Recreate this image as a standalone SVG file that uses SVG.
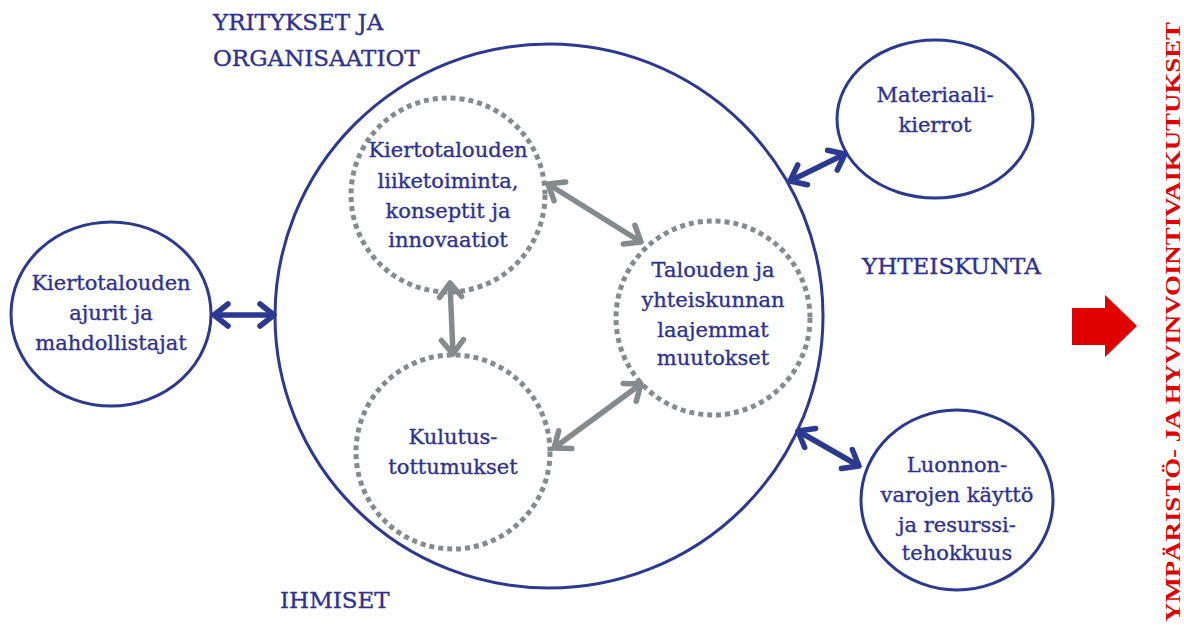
<svg xmlns="http://www.w3.org/2000/svg" width="1184" height="625" viewBox="0 0 1184 625">
<style>
text{font-family:"DejaVu Serif","Liberation Serif",serif;fill:#2e3192;stroke:#2e3192;stroke-width:0.35;font-size:21px;text-anchor:middle}
.lbl{text-anchor:start;font-size:23px}
.solid{fill:none;stroke:#2b3990;stroke-width:3}
.dot{fill:none;stroke:#858a8d;stroke-width:5;stroke-dasharray:5 4}
.na{stroke:#2b3990;stroke-width:5.5;fill:none;marker-start:url(#mn);marker-end:url(#mn)}
.ga{stroke:#858a8d;stroke-width:5.5;fill:none;marker-start:url(#mg);marker-end:url(#mg)}
</style>
<defs>
<marker id="mn" markerUnits="userSpaceOnUse" viewBox="-20 -15 25 30" markerWidth="25" markerHeight="30" refX="0" refY="0" orient="auto-start-reverse"><path d="M-14,-11 L0,0 L-14,11" fill="none" stroke="#2b3990" stroke-width="5.5" stroke-linecap="round" stroke-linejoin="round"/></marker>
<marker id="mg" markerUnits="userSpaceOnUse" viewBox="-20 -15 25 30" markerWidth="25" markerHeight="30" refX="0" refY="0" orient="auto-start-reverse"><path d="M-14,-11 L0,0 L-14,11" fill="none" stroke="#858a8d" stroke-width="5.5" stroke-linecap="round" stroke-linejoin="round"/></marker>
</defs>
<g id="big"><ellipse class="solid" cx="549" cy="316" rx="274" ry="272"/></g>
<g id="labels">
<text class="lbl" x="213" y="30">YRITYKSET JA</text>
<text class="lbl" x="213" y="66">ORGANISAATIOT</text>
<text class="lbl" x="862" y="274">YHTEISKUNTA</text>
<text class="lbl" x="280" y="608">IHMISET</text>
</g>
<g id="n-ajurit"><ellipse class="solid" cx="111" cy="314" rx="100" ry="92"/>
<text x="111" y="290">Kiertotalouden</text><text x="111" y="320">ajurit ja</text><text x="111" y="350">mahdollistajat</text></g>
<g id="n-liike"><circle class="dot" cx="448" cy="195" r="97"/>
<text x="448" y="157">Kiertotalouden</text><text x="448" y="188">liiketoiminta,</text><text x="448" y="218">konseptit ja</text><text x="448" y="247">innovaatiot</text></g>
<g id="n-kulutus"><circle class="dot" cx="453" cy="452" r="97"/>
<text x="453" y="444">Kulutus-</text><text x="453" y="474">tottumukset</text></g>
<g id="n-talous"><circle class="dot" cx="713" cy="318" r="97"/>
<text x="713" y="277">Talouden ja</text><text x="713" y="307">yhteiskunnan</text><text x="713" y="337">laajemmat</text><text x="713" y="365">muutokset</text></g>
<g id="n-materiaali"><ellipse class="solid" cx="935" cy="119" rx="98" ry="79"/>
<text x="935" y="102">Materiaali-</text><text x="935" y="132">kierrot</text></g>
<g id="n-luonnon"><ellipse class="solid" cx="957" cy="500" rx="96" ry="90"/>
<text x="957" y="472">Luonnon-</text><text x="957" y="502">varojen käyttö</text><text x="957" y="532">ja resurssi-</text><text x="957" y="560">tehokkuus</text></g>
<g id="connectors">
<line class="na" x1="214" y1="315" x2="274" y2="315"/>
<line class="na" x1="790" y1="181" x2="845" y2="154"/>
<line class="na" x1="798" y1="431" x2="859" y2="466"/>
<line class="ga" x1="548" y1="184" x2="641" y2="242"/>
<line class="ga" x1="450" y1="283" x2="453" y2="354"/>
<line class="ga" x1="554" y1="448" x2="641" y2="384"/>
</g>
<g id="impact">
<path d="M1072,308 L1105,308 L1105,295 L1137,326 L1105,357 L1105,345 L1072,345 Z" fill="#e00000"/>
<text x="0" y="0" transform="translate(1180,322) rotate(-90)" style="fill:#e00000;stroke:none;font-family:'Liberation Serif',serif;font-size:22px;font-weight:bold" textLength="600" lengthAdjust="spacingAndGlyphs">YMPÄRISTÖ- JA HYVINVOINTIVAIKUTUKSET</text>
</g>
</svg>
